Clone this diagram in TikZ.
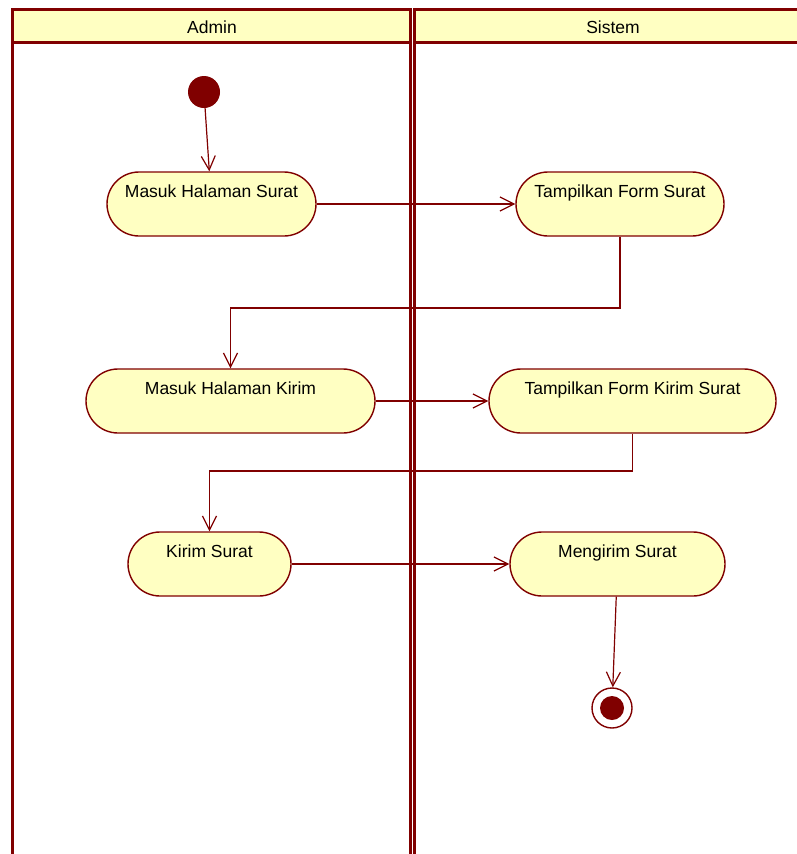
\documentclass[tikz,border=0pt]{standalone}
\usepackage{fontspec}
\setmainfont{Liberation Sans}
\usetikzlibrary{arrows.meta}
\definecolor{umlred}{RGB}{128,0,0}
\definecolor{umlfill}{RGB}{255,255,194}
\begin{document}
\begin{tikzpicture}[x=1pt,y=-1pt,
  font=\fontsize{17.5}{20}\selectfont,
  lane/.style={draw=umlred, line width=3pt},
  act/.style={rectangle, rounded corners=32pt, draw=umlred, fill=umlfill, line width=1.4pt,
    minimum height=64pt, text height=13pt, text depth=27pt, inner sep=0pt},
  flow/.style={draw=umlred, line width=1.2pt, -{Straight Barb[length=14pt,width=14pt,line width=1.2pt]}}]
\useasboundingbox (0,0) rectangle (797,854);
\begin{scope}
\clip (0,0) rectangle (797,854);
\draw[lane, fill=white] (12,9) rectangle (410.5,900);
\draw[lane, fill=white] (414.5,9) rectangle (830,900);
\node[lane, fill=umlfill, minimum width=398.5pt, minimum height=33pt, inner sep=0pt] (hadmin) at (211.25,25.5) {};
\node[lane, fill=umlfill, minimum width=415.5pt, minimum height=33pt, inner sep=0pt] (hsistem) at (622.25,25.5) {};
\node (tadmin) at (212,27) {Admin};
\node (tsistem) at (613,27) {Sistem};
\end{scope}
\node[circle, fill=umlred, minimum size=32pt, inner sep=0pt] (start) at (204,92) {};
\node[act, minimum width=209pt] (A1) at (211.5,204) {Masuk Halaman Surat};
\node[act, minimum width=208pt] (S1) at (620,204) {Tampilkan Form Surat};
\node[act, minimum width=289pt] (A2) at (230.5,401) {Masuk Halaman Kirim};
\node[act, minimum width=287pt] (S2) at (632.5,401) {Tampilkan Form Kirim Surat};
\node[act, minimum width=163pt] (A3) at (209.5,564) {Kirim Surat};
\node[act, minimum width=215pt] (S3) at (617.5,564) {Mengirim Surat};
\node[circle, draw=umlred, fill=white, line width=1.4pt, minimum size=40pt, inner sep=0pt] (end) at (612,708) {};
\node[circle, fill=umlred, minimum size=24pt, inner sep=0pt] (endc) at (end) {};
\coordinate (b1) at (0,308);
\coordinate (b2) at (0,471);
\draw[flow] (start) -- (A1);
\draw[flow] (A1) -- (S1);
\draw[flow] (S1.south) -- (S1.south |- b1) -| (A2.north);
\draw[flow] (A2) -- (S2);
\draw[flow] (S2.south) -- (S2.south |- b2) -| (A3.north);
\draw[flow] (A3) -- (S3);
\draw[flow] (S3) -- (end);
\end{tikzpicture}
\end{document}
